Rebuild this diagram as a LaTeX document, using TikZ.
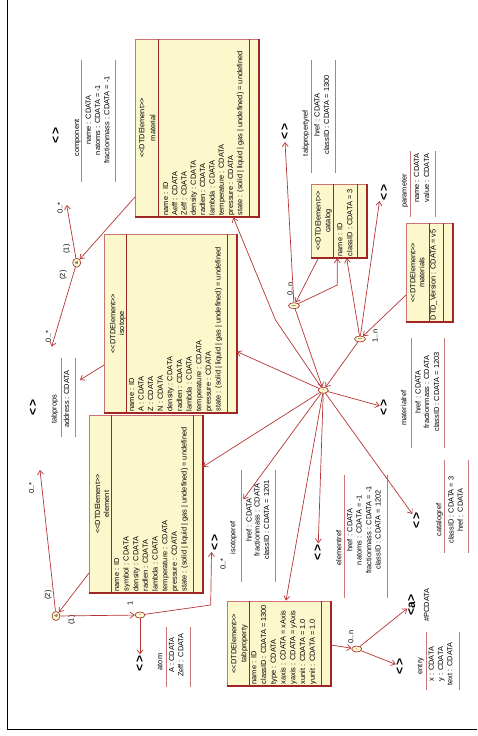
\documentclass[tikz,border=0pt]{standalone}
\usepackage{fontspec}
\setmainfont{Liberation Sans}
\usetikzlibrary{arrows.meta,shapes.geometric}
\definecolor{boxfill}{RGB}{252,248,204}
\definecolor{boxdark}{RGB}{160,38,38}
\definecolor{boxlight}{RGB}{205,115,115}
\definecolor{conncol}{RGB}{182,52,52}
\definecolor{sepcol}{RGB}{200,118,118}
\newcommand\afont{\fontsize{7.4}{9}\selectfont}
\newcommand\stereo{<{}<DTDElement>{}>}
\newcommand\umlbox[7]{%
  \node[boxnode, minimum width={#4pt-#2pt}, minimum height={#5pt-#3pt}] (#1) at ({(#2+#4)/2},{(#3+#5)/2}) {};
  \draw[boxdark, line width=1.3pt] (#4,#3) -- (#4,#5) -- (#2,#5);
  \draw[boxdark, line width=0.8pt] (#6,#3) -- (#6,#5) (#7,#3) -- (#7,#5);
}
\begin{document}
\begin{tikzpicture}[x=1pt,y=-1pt,
  boxnode/.style={rectangle, draw=boxlight, fill=boxfill, line width=0.8pt, inner sep=0pt},
  conn/.style={draw=conncol, line width=0.7pt, -{Straight Barb[length=4pt,width=6pt]}},
  sepline/.style={draw=sepcol, line width=0.9pt},
  txt/.style={rotate=90, inner sep=0pt, font=\afont, anchor=base},
  attr/.style={rotate=90, inner sep=0pt, font=\afont, anchor=base west},
  lbl/.style={rotate=90, inner sep=0pt, font=\afont},
  glyph/.style={rotate=90, inner sep=0.5pt, font=\fontsize{12}{12}\selectfont\bfseries},
  grp/.style={ellipse, draw=boxdark, fill=boxfill, line width=0.6pt, minimum width=10pt, minimum height=6pt, inner sep=0pt, font=\fontsize{4.5}{5}\selectfont},
]
\useasboundingbox (0,0) rectangle (477,736);
\draw[black, line width=1.2pt] (7.5,0) -- (7.5,729.5) -- (477,729.5);

% ---------- class boxes ----------
\umlbox{material}{135}{39}{259}{217}{158}{249}
\node[txt] at (144.3,128) {\stereo};
\node[txt] at (155.3,128) {material};
\foreach \t [count=\i from 0] in {name : ID, Aeff : CDATA, Zeff : CDATA, density : CDATA, radlen : CDATA, lambda : CDATA, temperature : CDATA, pressure : CDATA, state : (solid | liquid | gas | undefined) = undefined}
  \node[attr] at ({168+9.3*\i},215.5) {\t};

\umlbox{isotope}{104}{234}{237}{413}{126}{227}
\node[txt] at (115.3,323.5) {\stereo};
\node[txt] at (124,323.5) {isotope};
\foreach \t [count=\i from 0] in {name : ID, A : CDATA, Z : CDATA, N : CDATA, density : CDATA, radlen : CDATA, lambda : CDATA, temperature : CDATA, pressure : CDATA, state : (solid | liquid | gas | undefined) = undefined}
  \node[attr] at ({134+9.62*\i},411.5) {\t};

\umlbox{element}{89}{415}{203}{593}{111.7}{193.3}
\node[txt] at (100,504) {\stereo};
\node[txt] at (109,504) {element};
\foreach \t [count=\i from 0] in {name : ID, symbol : CDATA, density : CDATA, radlen : CDATA, lambda : CDATA, temperature : CDATA, pressure : CDATA, state : (solid | liquid | gas | undefined) = undefined}
  \node[attr] at ({119+9.66*\i},591.5) {\t};

\umlbox{catalog}{311}{184}{367}{258}{333.3}{357.5}
\node[txt] at (320.6,221) {\stereo};
\node[txt] at (330.3,221) {catalog};
\node[attr] at (342.3,256.5) {name : ID};
\node[attr] at (352.3,256.5) {classID : CDATA = 3};

\umlbox{materials}{406}{223}{453}{322}{429.3}{443.3}
\node[txt] at (415.3,272.5) {\stereo};
\node[txt] at (424.3,272.5) {materials};
\node[attr] at (435.6,320.5) {DTD\_Version : CDATA = v5};

\umlbox{tabproperty}{227}{601}{331}{686}{249.3}{321}
\node[txt] at (236.3,643.5) {\stereo};
\node[txt] at (246.3,643.5) {tabproperty};
\foreach \t [count=\i from 0] in {name : ID, classID : CDATA = 1300, type : CDATA, xaxis : CDATA = xAxis, yaxis : CDATA = yAxis, xunit : CDATA = 1.0, yunit : CDATA = 1.0}
  \node[attr] at ({256.3+9.78*\i},684.5) {\t};

% ---------- simple elements ----------
% component
\node[glyph] (compg) at (56,135) {<\hspace{2pt}>};
\node[txt] at (79,138) {component};
\draw[sepline] (81.7,60) -- (81.7,182) (115.7,60) -- (115.7,182);
\node[txt] at (90.8,120) {name : CDATA};
\node[txt] at (100,120) {natoms : CDATA = -1};
\node[txt] at (109.3,120) {fractionmass : CDATA = -1};
% tabpropertyref
\node[glyph] (tprefg) at (285,131) {<\hspace{2pt}>};
\node[txt] at (307.8,133) {tabpropertyref};
\draw[sepline] (311,60) -- (311,173) (335,60) -- (335,173);
\node[txt] at (319.6,115) {href : CDATA};
\node[txt] at (329,115) {classID : CDATA = 1300};
% parameter
\node[glyph] (paramg) at (384.3,192) {<\hspace{2pt}>};
\node[txt] at (406.6,191) {parameter};
\draw[sepline] (410.7,151) -- (410.7,217) (435,151) -- (435,217);
\node[txt] at (419,178) {name : CDATA};
\node[txt] at (429,178) {value : CDATA};
% tabprops
\node[glyph] (tpropsg) at (33.3,407) {<\hspace{2pt}>};
\node[txt] at (56.6,409) {tabprops};
\draw[sepline] (61,358) -- (61,437) (75,358) -- (75,437);
\node[txt] at (69,399) {address : CDATA};
% atom
\node[glyph] (atomg) at (140,663) {<\hspace{2pt}>};
\node[txt] at (162.3,662) {atom};
\draw[sepline] (166.7,627) -- (166.7,687) (190,627) -- (190,687);
\node[txt] at (174,655) {A : CDATA};
\node[txt] at (183.3,655) {Zeff : CDATA};
% isotoperef
\node[glyph] (isorefg) at (215,542) {<\hspace{2pt}>};
\node[txt] at (235.3,538) {isotoperef};
\draw[sepline] (241.7,470) -- (241.7,582) (275.7,470) -- (275.7,582);
\node[txt] at (251.6,520) {href : CDATA};
\node[txt] at (259.6,520) {fractionmass : CDATA};
\node[txt] at (269,520) {classID : CDATA = 1201};
% elementref
\node[glyph] (elrefg) at (318,552) {<\hspace{2pt}>};
\node[txt] at (341.3,548) {elementref};
\draw[sepline] (344.3,475) -- (344.3,598) (387.7,475) -- (387.7,598);
\node[txt] at (352.3,530) {href : CDATA};
\node[txt] at (361.6,530) {natoms : CDATA = -1};
\node[txt] at (371.3,530) {fractionmass : CDATA = -1};
\node[txt] at (380.6,530) {classID : CDATA = 1202};
% catalogref
\node[glyph] (catrefg) at (416.7,520) {<\hspace{2pt}>};
\node[txt] at (441.3,520) {catalogref};
\draw[sepline] (444.3,460) -- (444.3,553) (468.3,460) -- (468.3,553);
\node[txt] at (453.6,510) {classID : CDATA = 3};
\node[txt] at (462.8,510) {href : CDATA};
% materialref
\node[glyph] (matrefg) at (384,407) {<\hspace{2pt}>};
\node[txt] at (406.3,408) {materialref};
\draw[sepline] (411,338) -- (411,448) (444.3,338) -- (444.3,448);
\node[txt] at (420.6,392) {href : CDATA};
\node[txt] at (429,392) {fractionmass : CDATA};
\node[txt] at (439,392) {classID : CDATA = 1203};
% entry
\node[glyph] (entryg) at (400,666) {<\hspace{2pt}>};
\node[txt] at (422.3,666) {entry};
\draw[sepline] (426,632) -- (426,690) (459.3,632) -- (459.3,690);
\node[txt] at (433.8,664) {x : CDATA};
\node[txt] at (443,664) {y : CDATA};
\node[txt] at (452.3,664) {text : CDATA};
% #PCDATA
\node[glyph] (pcdg) at (411.5,605) {<a>};
\node[txt] at (429,605) {\#PCDATA};

% ---------- group nodes ----------
\node[grp] (hub) at (323.3,390.3) {\rotatebox{90}{,}};
\node[grp, minimum width=11pt] (g1) at (294,305.7) {\rotatebox{90}{|}};
\node[grp, minimum width=11pt] (g2) at (360,339) {\rotatebox{90}{|}};
\node[grp, minimum width=8pt, minimum height=9pt] (g3) at (76.7,262.7) {\rotatebox{90}{\&}};
\node[grp, minimum width=8pt, minimum height=9pt] (g4) at (56,616) {\rotatebox{90}{\&}};
\node[grp] (g5) at (140,615) {\rotatebox{90}{,}};
\node[grp] (g6) at (356.7,649) {\rotatebox{90}{,}};

% labels
\node[lbl] at (60,208) {0..*};
\node[lbl] at (48.3,336.5) {0..*};
\node[lbl] at (31.7,488) {0..*};
\node[lbl] at (223,564) {0..*};
\node[lbl] at (290,289) {0..n};
\node[lbl] at (375,336) {1..n};
\node[lbl] at (350.7,637) {0..n};
\node[lbl] at (130,603) {1};
\node[lbl] at (66.7,249) {(1)};
\node[lbl] at (63.3,275) {(2)};
\node[lbl] at (48.3,595) {(2)};
\node[lbl] at (71.7,620) {(1)};

% ---------- anchor coordinates ----------
\coordinate (matL) at (135,197);
\coordinate (compT) at (66.7,205);
\coordinate (tpropsT) at (51.7,346.7);
\coordinate (isoL) at (104,365);
\coordinate (tpropsT2) at (80,380);
\coordinate (elL) at (89,573);
\coordinate (g4T) at (40,470);
\coordinate (g5bend) at (210.7,605);
\coordinate (isorefT) at (211.5,552);
\coordinate (matbend) at (275.5,320);
\coordinate (matB) at (233.3,217.5);
\coordinate (isoR) at (237,351.7);
\coordinate (elR) at (203,466.7);
\coordinate (isorefA) at (243.3,499.3);
\coordinate (tpT) at (286,600.5);
\coordinate (catBL) at (318.3,258.3);
\coordinate (g1bend) at (337.3,285);
\coordinate (catB1) at (337.3,258.3);
\coordinate (catB2) at (346.7,258.3);
\coordinate (matsL) at (406,295);
\coordinate (paramT) at (379.5,201);
\coordinate (tprefT) at (285,142);
\coordinate (tpR) at (331,645);

% ---------- connectors ----------
\draw[conn] (matL) -- (g3);
\draw[conn] (g3) -- (compT);
\draw[conn] (g3) -- (tpropsT);
\draw[conn] (isoL) -- (tpropsT2);
\draw[conn] (elL) -- (g4);
\draw[conn] (g4) -- (g4T);
\draw[conn] (g4) -- (g5);
\draw[conn] (g5) -- (atomg);
\draw[conn] (g5) -- (g5bend) -- (isorefT);

\draw[conn] (hub) -- (matbend) -- (matB);
\draw[conn] (hub) -- (isoR);
\draw[conn] (hub) -- (elR);
\draw[conn] (hub) -- (isorefA);
\draw[conn] (hub) -- (tpT);
\draw[conn] (hub) -- (elrefg);
\draw[conn] (hub) -- (catrefg);
\draw[conn] (hub) -- (matrefg);

\draw[conn] (g1) -- (hub);
\draw[conn] (g2) -- (hub);
\draw[conn] (catBL) -- (g1);
\draw[conn] (g1) -- (g1bend) -- (catB1);
\draw[conn] (g1) -- (tprefT);
\draw[conn] (g2) -- (catB2);
\draw[conn] (matsL) -- (g2);
\draw[conn] (g2) -- (paramT);

\draw[conn] (tpR) -- (g6);
\draw[conn] (g6) -- (entryg);
\draw[conn] (g6) -- (pcdg);
\end{tikzpicture}
\end{document}
